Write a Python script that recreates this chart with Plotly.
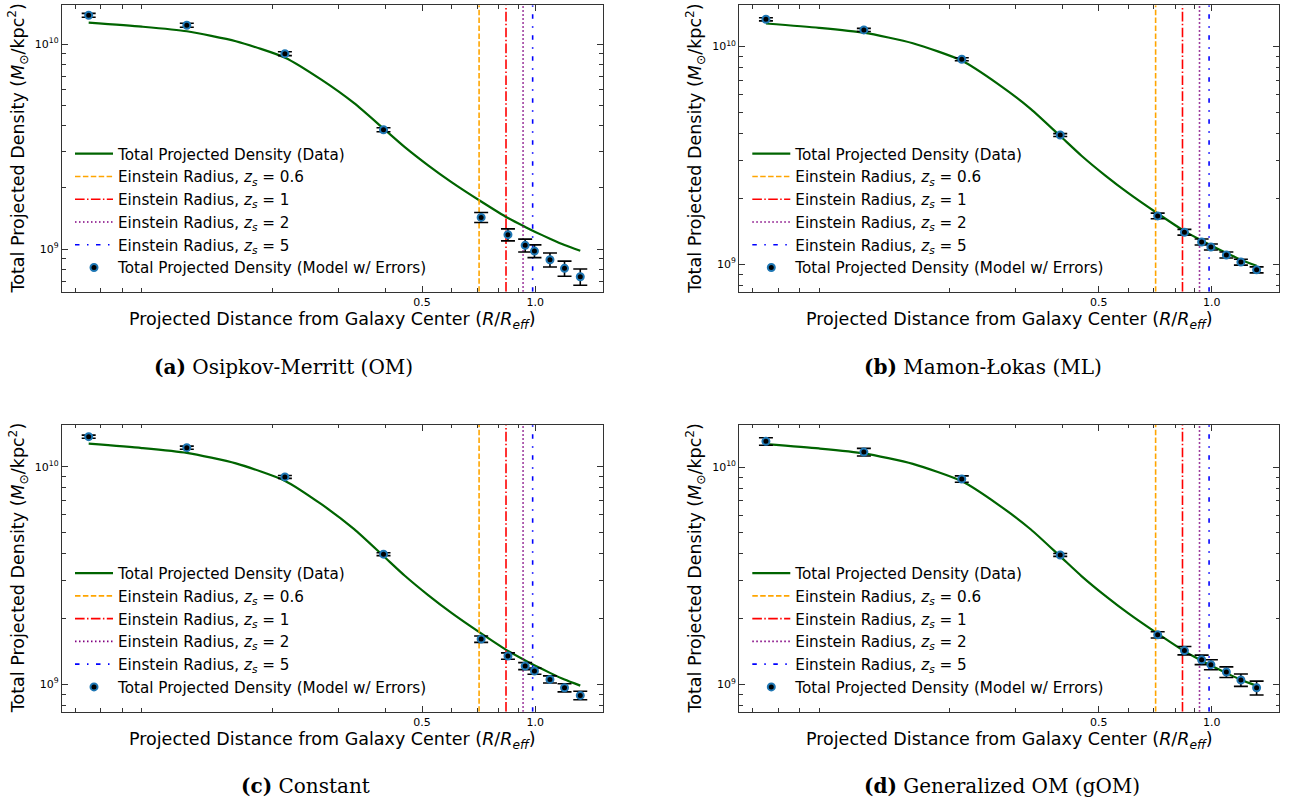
import plotly.graph_objects as go

W, H = 1293, 803

# ---------------- data ----------------
r_points = [0.065, 0.1185, 0.216, 0.395, 0.718, 0.846, 0.94, 0.995, 1.094, 1.196, 1.317]

curve_r = [0.065, 0.09, 0.1185, 0.16, 0.2163, 0.27, 0.33, 0.395, 0.45, 0.52, 0.6,
           0.718, 0.846, 0.94, 1.0, 1.094, 1.196, 1.317]
curve_sigma = [1.275e10, 1.218e10, 1.157e10, 1.035e10, 8.6e9, 6.72e9, 5.16e9, 3.88e9,
               3.15e9, 2.56e9, 2.12e9, 1.71e9, 1.42e9, 1.285e9, 1.215e9, 1.126e9,
               1.049e9, 0.984e9]

einstein_r = [0.709, 0.836, 0.928, 0.984]
einstein_z = ["0.6", "1", "2", "5"]

om_sigma = [1.385e10, 1.238e10, 9.0e9, 3.83e9, 1.43e9, 1.178e9, 1.045e9, 0.98e9, 0.889e9, 0.807e9, 0.734e9]
om_err = [3.0e8, 2.7e8, 2.0e8, 0.85e8, 0.8e8, 0.79e8, 0.75e8, 0.7e8, 0.7e8, 0.68e8, 0.67e8]

ml_sigma = [1.333e10, 1.191e10, 8.74e9, 3.92e9, 1.667e9, 1.403e9, 1.266e9, 1.20e9, 1.103e9, 1.023e9, 0.943e9]
ml_err = [2.2e8, 2.0e8, 1.4e8, 0.6e8, 0.5e8, 0.43e8, 0.4e8, 0.38e8, 0.35e8, 0.32e8, 0.3e8]

const_sigma = [1.374e10, 1.223e10, 8.97e9, 3.96e9, 1.61e9, 1.346e9, 1.21e9, 1.148e9, 1.051e9, 0.962e9, 0.887e9]
const_err = [2.2e8, 2.0e8, 1.4e8, 0.6e8, 0.55e8, 0.46e8, 0.45e8, 0.38e8, 0.4e8, 0.41e8, 0.4e8]

gom_sigma = [1.313e10, 1.172e10, 8.81e9, 3.94e9, 1.69e9, 1.43e9, 1.297e9, 1.232e9, 1.139e9, 1.047e9, 0.964e9]
gom_err = [5.2e8, 4.7e8, 3.0e8, 0.6e8, 0.57e8, 0.64e8, 0.65e8, 0.65e8, 0.64e8, 0.68e8, 0.71e8]

caption_tags = ["(a)", "(b)", "(c)", "(d)"]
caption_texts = ["Osipkov-Merritt (OM)", "Mamon-Łokas (ML)", "Constant", "Generalized OM (gOM)"]

x_tick_vals = [0.5, 1.0]
x_tick_text = ["0.5", "1.0"]
x_minor_vals = [0.06, 0.07, 0.08, 0.09, 0.2, 0.3, 0.4, 0.6, 0.7, 0.8, 0.9]
y_tick_vals = [1e9, 1e10]
y_tick_text = ["10<sup>9</sup>", "10<sup>10</sup>"]
y_minor_vals = [7e8, 8e8, 9e8, 2e9, 3e9, 4e9, 5e9, 6e9, 7e9, 8e9, 9e9]

model_sets = [(om_sigma, om_err), (ml_sigma, ml_err), (const_sigma, const_err), (gom_sigma, gom_err)]

# ---------------- layout geometry (pixels) ----------------
panels = [
    dict(x0=62, x1=603, y0=5.3, y1=291.7, yr=(8.793, 10.19), cap=(283, 367)),
    dict(x0=739.3, x1=1279.3, y0=5.3, y1=291.7, yr=(8.874, 10.189), cap=(983, 367)),
    dict(x0=62, x1=603, y0=424.7, y1=711.7, yr=(8.873, 10.193), cap=(305, 786)),
    dict(x0=739.3, x1=1279.3, y0=424.7, y1=711.7, yr=(8.874, 10.195), cap=(1002, 786)),
]
x_range = [-1.258, 0.18]

vline_styles = [
    dict(color="orange", dash="5.5px,2.4px"),
    dict(color="red", dash="9.6px,2.4px,1.5px,2.4px"),
    dict(color="purple", dash="1.5px,2.5px"),
    dict(color="blue", dash="4.5px,7.5px,1.5px,7.5px"),
]

SANS = "DejaVu Sans"
fig = go.Figure()
annotations = []
layout_axes = {}

for i, p in enumerate(panels):
    n = "" if i == 0 else str(i + 1)
    xa, ya = "x" + n, "y" + n
    leg = "legend" + n
    sig, err = model_sets[i]

    fig.add_trace(go.Scatter(
        x=curve_r, y=curve_sigma, mode="lines", xaxis=xa, yaxis=ya,
        line=dict(color="#006400", width=2.2, shape="spline", smoothing=0.6),
        name="Total Projected Density (Data)", legend=leg))

    for r_e, z, st in zip(einstein_r, einstein_z, vline_styles):
        fig.add_trace(go.Scatter(
            x=[r_e, r_e], y=[10 ** p["yr"][0], 10 ** p["yr"][1]], mode="lines",
            xaxis=xa, yaxis=ya,
            line=dict(color=st["color"], dash=st["dash"], width=1.6),
            name="Einstein Radius, <i>z</i><sub><i>s</i></sub> = " + z, legend=leg))

    fig.add_trace(go.Scatter(
        x=r_points, y=sig, mode="markers", xaxis=xa, yaxis=ya,
        marker=dict(color="black", size=7, line=dict(color="#1f77b4", width=2)),
        error_y=dict(type="data", array=err, visible=True, color="black",
                     thickness=1.6, width=7),
        name="Total Projected Density (Model w/ Errors)", legend=leg))

    xdom = [p["x0"] / W, p["x1"] / W]
    ydom = [1 - p["y1"] / H, 1 - p["y0"] / H]
    common = dict(showline=True, linecolor="#333", linewidth=1.3, mirror="allticks",
                  ticks="inside", ticklen=6, tickwidth=1.1, tickcolor="#333",
                  showgrid=False, zeroline=False,
                  tickfont=dict(family=SANS, size=11, color="black"))
    layout_axes["xaxis" + n] = dict(
        common, type="log", domain=xdom, anchor=ya, range=x_range,
        tickmode="array", tickvals=x_tick_vals, ticktext=x_tick_text,
        minor=dict(tickmode="array", tickvals=x_minor_vals, ticks="inside",
                   ticklen=3.5, tickwidth=1, tickcolor="#333"))
    layout_axes["yaxis" + n] = dict(
        common, type="log", domain=ydom, anchor=xa, range=list(p["yr"]),
        tickmode="array", tickvals=y_tick_vals, ticktext=y_tick_text,
        minor=dict(tickmode="array", tickvals=y_minor_vals, ticks="inside",
                   ticklen=3.5, tickwidth=1, tickcolor="#333"))

    # legend
    layout_axes[leg] = dict(
        x=(p["x0"] + 8) / W, y=1 - (p["y0"] + 132) / H, xanchor="left", yanchor="top",
        bgcolor="rgba(0,0,0,0)", borderwidth=0, itemwidth=38,
        font=dict(family=SANS, size=15.2, color="black"))

    cx = (p["x0"] + p["x1"]) / 2
    cy = (p["y0"] + p["y1"]) / 2
    annotations.append(dict(
        text="Projected Distance from Galaxy Center (<i>R</i>/<i>R</i><sub><i>eff</i></sub>)",
        x=cx / W, y=1 - (p["y1"] + 28.5) / H, xref="paper", yref="paper",
        xanchor="center", yanchor="middle", showarrow=False,
        font=dict(family=SANS, size=17.5, color="black")))
    annotations.append(dict(
        text="Total Projected Density (<i>M</i><sub>⊙</sub>/kpc<sup>2</sup>)",
        x=(p["x0"] - 44) / W, y=1 - cy / H, xref="paper", yref="paper",
        xanchor="center", yanchor="middle", showarrow=False, textangle=-90,
        font=dict(family=SANS, size=17.5, color="black")))
    annotations.append(dict(
        text="<b>" + caption_tags[i] + "</b> " + caption_texts[i],
        x=p["cap"][0] / W, y=1 - p["cap"][1] / H, xref="paper", yref="paper",
        xanchor="center", yanchor="middle", showarrow=False,
        font=dict(family="DejaVu Serif", size=20, color="black")))

fig.update_layout(
    width=W, height=H, margin=dict(l=0, r=0, t=0, b=0),
    paper_bgcolor="white", plot_bgcolor="white",
    annotations=annotations, **layout_axes)

fig.write_html("out.html")
